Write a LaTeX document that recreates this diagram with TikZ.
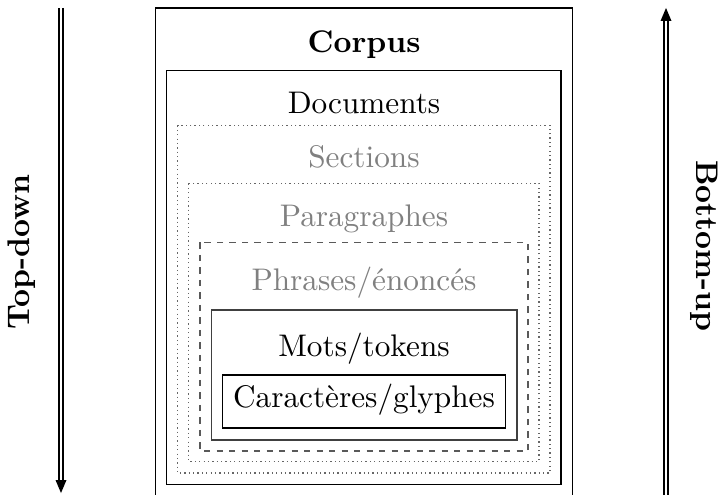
\documentclass[tikz,border=0pt]{standalone}
\usetikzlibrary{arrows.meta}
\begin{document}
\begin{tikzpicture}[x=0.32pt, y=-0.32pt,
  frame/.style={draw=black, line width=0.4pt},
  framedot/.style={draw=black!60, line width=0.4pt, densely dotted},
  framedash/.style={draw=black!65, line width=0.5pt, dash pattern=on 2pt off 2pt},
  framegray/.style={draw=black!75, line width=0.4pt},
  lvl/.style={anchor=base, font=\normalsize, inner sep=0pt},
  lvlgray/.style={lvl, text=black!50},
  dirlabel/.style={anchor=base, font=\bfseries, inner sep=0pt},
  dirline/.style={line width=0.5pt, double, double distance=0.8pt, shorten >=3.6pt},
  dirhead/.style={fill=black}]
  \useasboundingbox (0,0) rectangle (720,494);

  % nested levels, from the whole corpus down to single glyphs
  \draw[frame]     (155.5,8)   rectangle (572.5,510);
  \draw[frame]     (166.5,70.5) rectangle (561,484.5);
  \draw[framedot]  (177.5,125.5) rectangle (550,473);
  \draw[framedot]  (188.5,183.5) rectangle (539,461.5);
  \draw[framedash] (200,242.5) rectangle (528,451);
  \draw[framegray] (211.5,310) rectangle (517,440);
  \draw[frame]     (222.5,375) rectangle (505.5,428);

  \node[lvl, font=\bfseries] (corpus) at (364,52.7) {Corpus};
  \node[lvl]     (docs)   at (364,113.5) {Documents};
  \node[lvlgray] (sect)   at (364,167.5) {Sections};
  \node[lvlgray] (para)   at (364,226.5) {Paragraphes};
  \node[lvlgray] (phr)    at (364,290)   {Phrases/énoncés};
  \node[lvl]     (mots)   at (364,356)   {Mots/tokens};
  \node[lvl]     (car)    at (364,407)   {Caractères/glyphes};

  % reading directions: double shaft ending in a solid head
  \coordinate (tdtop) at (61,8);
  \coordinate (tdbot) at (61,493);
  \draw[dirline] (tdtop) -- (tdbot);
  \fill[dirhead] (tdbot) -- ++(-5.5,-13) -- ++(11,0) -- cycle;
  \node[dirlabel, rotate=90] (td) at (30,252) {Top-down};

  \coordinate (bubot) at (666,500);
  \coordinate (butop) at (666,8);
  \draw[dirline] (bubot) -- (butop);
  \fill[dirhead] (butop) -- ++(-5.5,13) -- ++(11,0) -- cycle;
  \node[dirlabel, rotate=-90] (bu) at (696,246) {Bottom-up};
\end{tikzpicture}
\end{document}
